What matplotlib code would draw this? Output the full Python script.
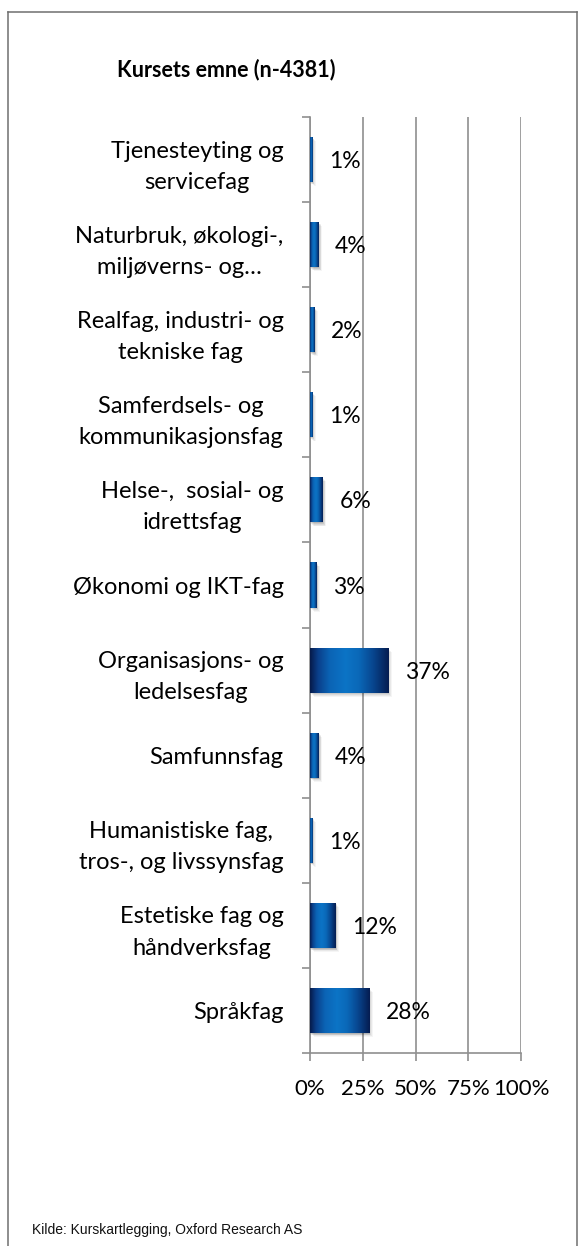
import numpy as np
import matplotlib.pyplot as plt
import matplotlib.transforms as mtransforms
from matplotlib.colors import LinearSegmentedColormap
from matplotlib.patches import Rectangle
from matplotlib.lines import Line2D

# Course subject categories (top to bottom) and their share in percent
categories = [
    "Tjenesteyting og\nservicefag",
    "Naturbruk, økologi-,\nmiljøverns- og…",
    "Realfag, industri- og\ntekniske fag",
    "Samferdsels- og\nkommunikasjonsfag",
    "Helse-,  sosial- og\nidrettsfag",
    "Økonomi og IKT-fag",
    "Organisasjons- og\nledelsesfag",
    "Samfunnsfag",
    "Humanistiske fag,\ntros-, og livssynsfag",
    "Estetiske fag og\nhåndverksfag",
    "Språkfag",
]
shares = [1, 4, 2, 1, 6, 3, 37, 4, 1, 12, 28]
x_ticks = [0, 25, 50, 75, 100]
title_text = "Kursets emne (n-4381)"
source_text = "Kilde: Kurskartlegging, Oxford Research AS"

plt.rcParams['font.family'] = ['Lato', 'DejaVu Sans']

W, H = 578, 1246
fig = plt.figure(figsize=(W / 100, H / 100), dpi=100)
fig.patch.set_facecolor('white')

ax_left, ax_right, ax_top, ax_bottom = 310, 521, 117, 1053
ax = fig.add_axes([ax_left / W, 1 - ax_bottom / H,
                   (ax_right - ax_left) / W, (ax_bottom - ax_top) / H])

n = len(categories)
pos = np.arange(n)
bar_h = 0.53
bars = ax.barh(pos, shares, height=bar_h, color='none', edgecolor='none', zorder=3)

# cylinder-like horizontal shading for the bars
cyl = LinearSegmentedColormap.from_list('cyl', [
    (0.00, '#061a4a'),
    (0.10, '#0a3f8a'),
    (0.25, '#0b64b5'),
    (0.45, '#0c74c6'),
    (0.62, '#0a68b8'),
    (0.80, '#08468f'),
    (1.00, '#051c50'),
])
grad = np.linspace(0, 1, 256).reshape(1, -1)

for b in bars:
    x0, y0, w, h = b.get_x(), b.get_y(), b.get_width(), b.get_height()
    # soft drop shadow
    for k, a in zip(range(1, 6), [0.10, 0.08, 0.06, 0.05, 0.04]):
        off = mtransforms.ScaledTranslation(k * 0.7 / 100, -k * 0.8 / 100, fig.dpi_scale_trans)
        sh = Rectangle((x0, y0), w, h, facecolor='#000000', edgecolor='none',
                       alpha=a, transform=ax.transData + off, zorder=2)
        ax.add_patch(sh)
    im = ax.imshow(grad, extent=[x0, x0 + w, y0 + h, y0], aspect='auto',
                   cmap=cyl, interpolation='bicubic', zorder=3)
    im.set_clip_path(b)

for p, v in zip(pos, shares):
    ax.annotate(f"{v}%", xy=(v, p), xytext=(12, -1.5), textcoords='offset points',
                ha='left', va='center', fontsize=16.5, color='black', zorder=4)

ax.set_xlim(0, 100)
ax.set_ylim(n - 0.5, -0.5)

grid_col = '#8f8f8f'
ax.set_xticks(x_ticks)
ax.set_xticklabels([f"{t}%" for t in x_ticks])
ax.xaxis.grid(True, color=grid_col, linewidth=1.2, zorder=0)
ax.set_axisbelow(True)
ax.tick_params(axis='x', direction='out', length=6, width=1.2, color=grid_col,
               pad=13, labelsize=16)

ax.set_yticks(pos)
ax.set_yticklabels(categories, multialignment='center', linespacing=1.6)
ax.set_yticks(np.arange(n + 1) - 0.5, minor=True)
ax.tick_params(axis='y', which='major', length=0, pad=19, labelsize=17)
ax.tick_params(axis='y', which='minor', direction='out', length=6, width=1.2, color=grid_col)

for s in ('top', 'right'):
    ax.spines[s].set_visible(False)
for s in ('left', 'bottom'):
    ax.spines[s].set_color(grid_col)
    ax.spines[s].set_linewidth(1.2)

fig.text(226 / W, 1 - 70 / H, title_text, ha='center', va='center',
         fontsize=15.5, fontweight='bold', color='black')

fig.text(32 / W, 1 - 1230 / H, source_text, ha='left', va='center', fontsize=10,
         color='#111111', family=['Liberation Sans Narrow', 'Liberation Sans', 'DejaVu Sans'])

# outer frame
frame_col = '#6f6f6f'
fx0, fx1, fy = 7.5 / W, 576.5 / W, 1 - 11.5 / H
fig.add_artist(Line2D([fx0, fx1], [fy, fy], transform=fig.transFigure, color=frame_col, lw=1.1))
fig.add_artist(Line2D([fx0, fx0], [0, fy], transform=fig.transFigure, color=frame_col, lw=1.1))
fig.add_artist(Line2D([fx1, fx1], [0, fy], transform=fig.transFigure, color=frame_col, lw=1.1))

fig.savefig('out.png', dpi=100)
